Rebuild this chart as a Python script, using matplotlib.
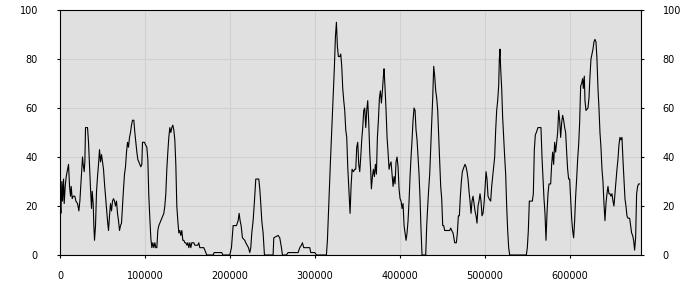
import matplotlib

matplotlib.use("Agg")
import matplotlib.pyplot as plt
from matplotlib.ticker import MultipleLocator

# series (x in thousands, y in percent)
x_k = [
    0.0, 0.8, 1.96, 2.75, 3.92, 4.71, 5.88, 7.06, 8.63, 9.80, 10.98, 12.16, 12.94, 14.12,
    15.29, 17.25, 18.43, 20.39, 21.96, 23.14, 24.31, 25.49, 26.27, 27.06, 28.24, 29.02,
    29.80, 32.16, 33.33, 34.51, 35.69, 36.86, 37.65, 38.82, 39.61, 40.39, 41.57, 42.75,
    43.92, 45.10, 46.27, 47.45, 48.63, 49.80, 50.98, 52.16, 53.33, 54.51, 55.69, 56.86,
    58.04, 59.22, 60.39, 61.57, 62.75, 63.92, 65.10, 66.27, 67.45, 68.63, 69.80, 70.98,
    72.16, 73.33, 74.51, 75.69, 76.86, 78.04, 79.22, 80.39, 81.57, 82.75, 83.92, 85.10,
    86.67, 87.84, 89.02, 90.20, 91.37, 92.55, 93.73, 94.90, 96.08, 96.86, 99.22, 100.39,
    101.96, 103.14, 104.31, 105.49, 106.67, 107.84, 109.02, 110.20, 111.37, 112.55,
    113.73, 114.90, 116.08, 117.25, 118.43, 119.61, 120.78, 121.96, 123.14, 124.31,
    125.49, 126.67, 127.84, 129.02, 130.20, 131.37, 132.55, 133.73, 134.90, 136.08,
    137.25, 138.43, 139.61, 140.78, 141.96, 143.14, 144.31, 145.49, 146.67, 147.84,
    149.02, 150.20, 151.37, 152.55, 153.73, 154.90, 156.08, 157.25, 158.43, 160.78,
    161.96, 163.14, 164.31, 169.02, 170.20, 171.37, 172.55, 180.0, 181.18, 190.20,
    191.37, 199.61, 201.57, 203.53, 207.45, 209.41, 210.59, 211.76, 212.94, 214.51,
    217.25, 218.43, 220.0, 221.57, 223.14, 224.31, 225.49, 227.06, 228.63, 230.20,
    233.73, 234.90, 236.08, 237.25, 238.82, 240.39, 250.59, 251.37, 256.47, 258.43,
    260.39, 261.57, 266.27, 268.24, 280.0, 281.96, 283.92, 285.10, 286.67, 293.73,
    294.90, 299.61, 301.57, 313.33, 314.51, 315.69, 316.86, 318.04, 319.22, 320.39,
    321.57, 322.75, 323.92, 325.10, 326.27, 327.45, 329.02, 330.20, 331.37, 332.55,
    333.73, 334.90, 336.08, 337.25, 338.43, 339.61, 341.18, 342.35, 343.53, 345.10,
    346.67, 347.84, 349.02, 350.20, 351.37, 352.55, 353.73, 354.90, 356.08, 357.25,
    358.43, 359.61, 360.78, 361.96, 363.14, 364.31, 365.49, 366.27, 367.45, 368.63,
    369.80, 370.98, 372.16, 373.33, 374.51, 375.69, 376.86, 378.04, 379.22, 380.39,
    381.18, 382.35, 383.53, 384.71, 385.88, 387.06, 388.24, 389.41, 390.59, 391.76,
    392.94, 394.12, 395.29, 396.47, 397.65, 398.82, 400.0, 401.18, 402.35, 403.53,
    404.71, 405.88, 407.06, 408.24, 409.41, 410.59, 411.76, 412.94, 414.12, 415.29,
    416.47, 417.65, 418.82, 420.0, 421.18, 422.35, 423.53, 424.71, 425.88, 430.20,
    431.37, 432.55, 433.73, 434.90, 436.08, 437.25, 438.43, 439.61, 440.78, 441.96,
    443.14, 444.31, 445.49, 446.67, 447.84, 449.02, 450.20, 451.37, 452.55, 456.47,
    458.43, 459.61, 460.78, 462.35, 464.31, 466.27, 467.45, 468.63, 469.80, 470.98,
    472.16, 473.33, 475.29, 476.47, 477.65, 478.82, 480.0, 481.18, 482.35, 483.53,
    484.71, 485.88, 487.06, 488.24, 489.41, 490.59, 491.76, 492.94, 494.12, 495.29,
    496.47, 497.65, 498.82, 500.0, 501.18, 502.35, 503.53, 504.71, 506.67, 507.84,
    509.02, 510.20, 511.37, 512.55, 513.73, 514.90, 516.08, 516.86, 517.65, 518.43,
    519.61, 520.78, 521.96, 523.14, 524.31, 525.49, 526.67, 527.84, 529.02, 548.63,
    549.80, 550.98, 552.16, 555.69, 556.86, 558.04, 559.22, 560.39, 562.35, 565.88,
    567.06, 568.24, 569.41, 570.59, 571.76, 572.94, 574.12, 575.29, 577.25, 578.43,
    579.61, 580.78, 581.96, 583.14, 584.31, 585.49, 586.67, 587.84, 589.02, 590.20,
    591.37, 592.55, 593.73, 594.90, 596.08, 597.25, 598.43, 599.61, 600.78, 601.96,
    603.14, 604.31, 605.49, 606.67, 607.84, 609.02, 610.20, 611.37, 612.55, 613.73,
    614.90, 615.69, 616.86, 617.65, 618.82, 621.18, 622.35, 623.53, 624.71, 625.88,
    627.06, 628.24, 629.41, 630.59, 631.76, 632.94, 634.12, 635.29, 636.47, 637.65,
    638.82, 640.0, 641.18, 642.35, 643.53, 644.71, 645.88, 647.06, 648.24, 649.41,
    650.59, 651.76, 652.94, 654.12, 655.29, 656.47, 657.65, 658.82, 660.0, 661.18,
    662.35, 663.53, 664.71, 665.88, 667.06, 668.24, 670.20, 671.37, 672.55, 673.73,
    674.90, 676.08, 677.25, 678.43, 679.61, 680.78, 681.96,
]
values = [
    22, 17, 30, 22, 31, 21, 28, 32, 35, 37, 28, 24, 28, 23,
    24, 24, 22, 21, 18, 22, 29, 36, 40, 37, 34, 38,
    52, 52, 46, 36, 27, 19, 26, 21, 12, 6, 12, 26,
    32, 37, 43, 38, 41, 38, 35, 29, 24, 19, 14, 10,
    16, 21, 18, 22, 23, 22, 20, 22, 17, 14, 10, 12,
    13, 20, 27, 33, 36, 42, 46, 44, 48, 50, 53, 55,
    55, 50, 46, 42, 39, 38, 37, 36, 37, 46, 46, 45,
    44, 39, 24, 15, 7, 3, 5, 3, 5, 3,
    3, 10, 12, 13, 14, 15, 16, 17, 20, 25,
    35, 42, 48, 52, 50, 52, 53, 51, 47, 37,
    20, 14, 9, 10, 8, 10, 6, 6, 5, 5,
    4, 5, 3, 5, 3, 5, 5, 5, 4, 4,
    4, 5, 3, 3, 2, 1, 0, 0, 1, 1,
    0, 0, 3, 12, 12, 14, 17, 14, 12, 7,
    6, 5, 4, 3, 1, 3, 9, 14, 22, 31,
    31, 27, 21, 14, 9, 0, 0, 7, 8, 7,
    3, 0, 0, 1, 1, 3, 4, 5, 3, 3,
    1, 1, 0, 0, 6, 17, 28, 38, 48, 58,
    67, 77, 89, 95, 85, 81, 81, 82, 77, 68,
    63, 59, 51, 48, 36, 28, 17, 28, 35, 34,
    35, 35, 44, 46, 37, 34, 40, 47, 52, 59,
    60, 52, 59, 63, 54, 42, 34, 27, 32, 35,
    32, 37, 33, 48, 55, 64, 67, 62, 67, 73,
    76, 68, 59, 48, 42, 35, 37, 38, 33, 28,
    32, 29, 38, 40, 36, 27, 23, 22, 19, 21,
    12, 9, 6, 9, 14, 22, 32, 40, 47, 55,
    60, 59, 51, 47, 40, 33, 23, 10, 0, 0,
    12, 20, 27, 33, 44, 54, 64, 77, 73, 67,
    64, 59, 48, 38, 28, 23, 12, 12, 10, 10,
    10, 11, 10, 9, 5, 5, 9, 16, 16, 24,
    30, 34, 36, 37, 36, 34, 31, 26, 22, 17,
    22, 24, 21, 18, 16, 13, 20, 22, 25, 22,
    16, 17, 21, 27, 34, 31, 24, 23, 22, 28,
    32, 36, 40, 51, 59, 63, 69, 80, 84, 76,
    68, 56, 48, 40, 33, 20, 10, 3, 0, 0,
    3, 10, 22, 22, 25, 43, 49, 50, 52, 52,
    40, 31, 23, 17, 6, 17, 25, 29, 29, 37,
    42, 37, 46, 42, 46, 50, 59, 55, 48, 54,
    57, 55, 52, 50, 42, 35, 31, 31, 23, 15,
    10, 7, 14, 24, 31, 39, 45, 54, 69, 70,
    72, 68, 73, 63, 59, 60, 64, 73, 80, 82,
    84, 87, 88, 87, 80, 68, 60, 50, 44, 35,
    30, 21, 14, 21, 25, 28, 25, 25, 24, 25,
    22, 20, 25, 30, 35, 39, 45, 48, 47, 48,
    39, 31, 23, 20, 16, 15, 15, 12, 9, 8,
    6, 2, 7, 25, 28, 29, 29,
]
x_values = [k * 1000 for k in x_k]
x_ticks = [0, 100000, 200000, 300000, 400000, 500000, 600000]
y_ticks = [0, 20, 40, 60, 80, 100]

fig = plt.figure(figsize=(7, 3), dpi=100)
ax = fig.add_axes([0.086, 0.15, 0.829, 0.8167])
ax.set_facecolor("#e0e0e0")

ax.plot(x_values, values, color="black", linewidth=0.8)

ax.set_xlim(0, 683000)
ax.set_ylim(0, 100)
ax.set_xticks(x_ticks)
ax.set_xticklabels([str(t) for t in x_ticks])
ax.set_yticks(y_ticks)
ax.grid(True, color="#d0d0d0", linewidth=0.8)
ax.set_axisbelow(True)

for spine in ax.spines.values():
    spine.set_color("black")
    spine.set_linewidth(0.8)

ax.tick_params(axis="y", which="both", left=True, right=True, labelleft=True, labelright=True,
               length=2, width=0.8, pad=14, labelsize=7)
ax.tick_params(axis="x", length=2.5, width=0.8, pad=9, labelsize=7)
for lab in ax.get_yticklabels():
    lab.set_color("black")

fig.savefig("out.png", dpi=100)
